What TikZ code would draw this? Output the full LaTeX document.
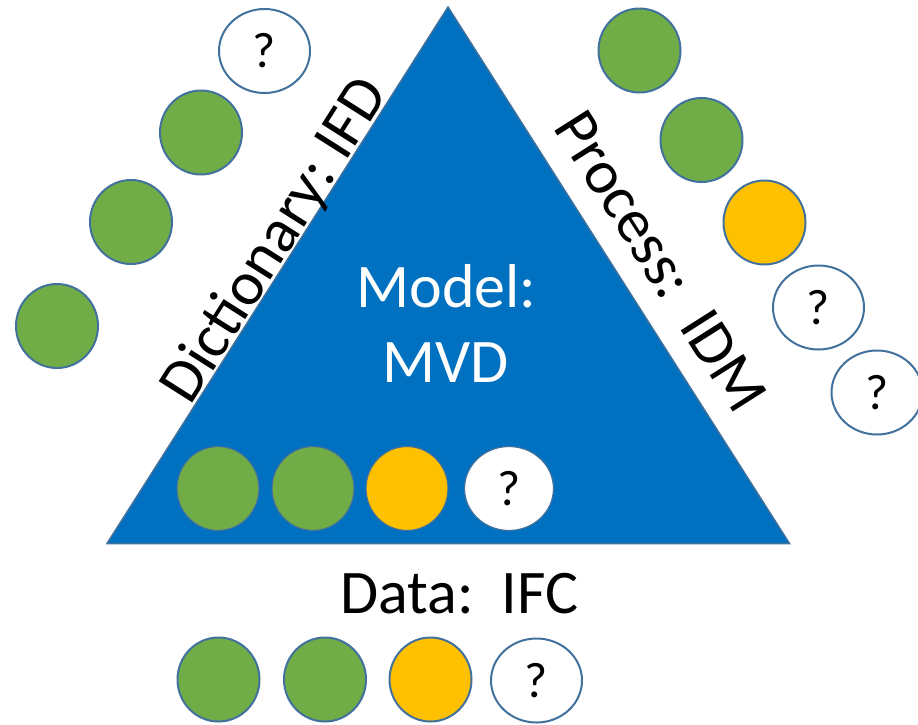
\documentclass[tikz,border=0pt]{standalone}
\usepackage{fontspec}
\setmainfont{Carlito}
\usetikzlibrary{shapes.geometric}
\definecolor{tblue}{HTML}{0070C0}
\definecolor{tgreen}{HTML}{70AD47}
\definecolor{tyellow}{HTML}{FFC000}
\definecolor{toutl}{HTML}{41719C}
\tikzset{
  dotbase/.style={ellipse, draw=toutl, line width=2pt, inner sep=0pt, minimum width=82pt, minimum height=84pt},
  gdot/.style={dotbase, fill=tgreen},
  ydot/.style={dotbase, fill=tyellow},
  qdot/.style={dotbase, fill=white, minimum width=91pt, font=\fontsize{50}{60}\selectfont},
  innerdot/.style={line width=1.2pt},
  bigtext/.style={font=\fontsize{62}{75}\selectfont, inner sep=0pt, anchor=base},
}
\begin{document}
\frenchspacing
\begin{tikzpicture}[x=1pt,y=-1pt]
\useasboundingbox (0,0) rectangle (918,724);
% triangle
\coordinate (apex) at (448,7);
\coordinate (bl) at (107,543.5);
\coordinate (br) at (789.5,543.5);
\draw[fill=tblue, draw=toutl, line width=1.5pt, line join=miter] (apex) -- (br) -- (bl) -- cycle;
% left side (Dictionary)
\node[qdot] (l1) at (264.5,51) {?};
\node[gdot] (l2) at (201,132.5) {};
\node[gdot] (l3) at (131,222) {};
\node[gdot] (l4) at (57,326) {};
% right side (Process)
\node[gdot] (r1) at (639.5,50.5) {};
\node[gdot] (r2) at (701.5,140) {};
\node[ydot] (r3) at (764.5,222.5) {};
\node[qdot] (r4) at (818.5,307.5) {?};
\node[qdot] (r5) at (877,392.5) {?};
% inside triangle (Model)
\node[gdot, innerdot] (m1) at (218,488.5) {};
\node[gdot, innerdot] (m2) at (313,488.5) {};
\node[ydot, innerdot] (m3) at (407,488.5) {};
\node[qdot, innerdot, minimum width=89pt] (m4) at (509,488.5) {?};
% bottom (Data)
\node[gdot] (d1) at (218.5,679.5) {};
\node[gdot] (d2) at (325,679.5) {};
\node[ydot] (d3) at (430.5,679.5) {};
\node[qdot] (d4) at (536.5,680.5) {?};
% texts
\node[bigtext, text=white] (model) at (446.5,307) {Model:};
\node[bigtext, text=white] (mvd) at (445.5,382) {MVD};
\node[bigtext] (data) at (459.5,613) {Data:\ \ IFC};
\node[bigtext, rotate=57.6] (dict) at (290,250) {Dictionary: IFD};
\node[bigtext, rotate=-57.6] (proc) at (644,272) {Process:\ \ IDM};
\end{tikzpicture}
\end{document}
